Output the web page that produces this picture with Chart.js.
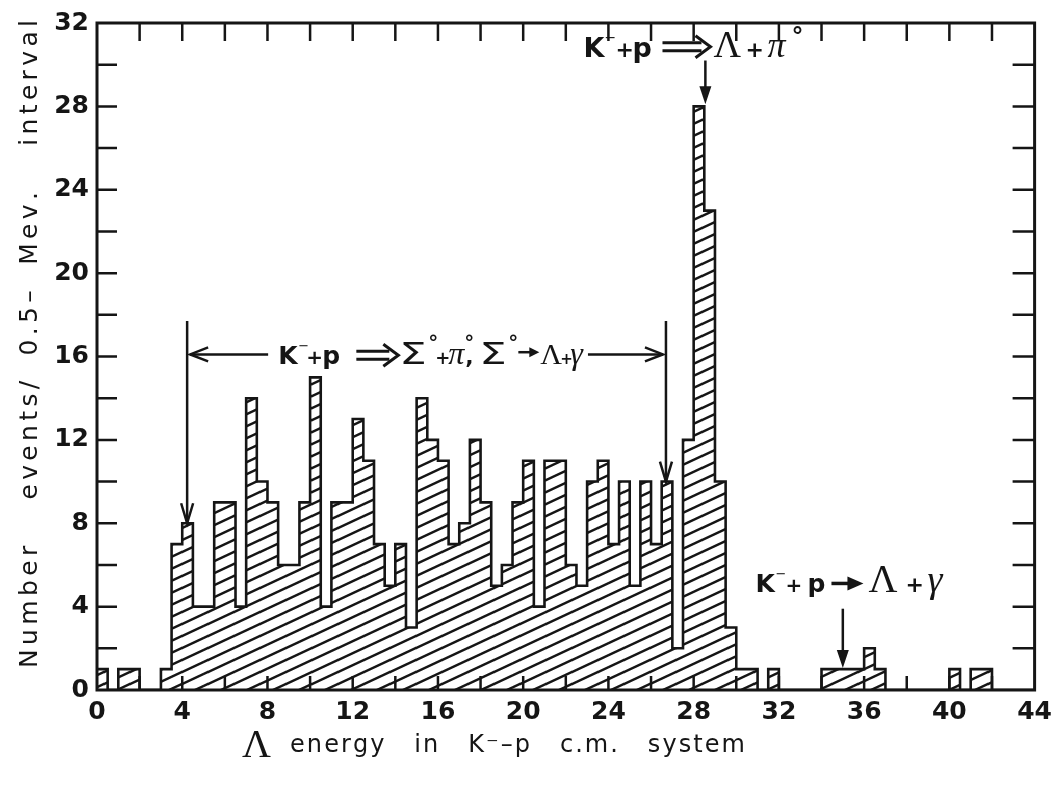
<!DOCTYPE html>
<html>
<head>
<meta charset="utf-8">
<script src="https://cdn.jsdelivr.net/npm/chart.js@4.4.1/dist/chart.umd.min.js"></script>
<style>
  html, body { margin: 0; padding: 0; background: #fff; }
</style>
</head>
<body>
<canvas id="chart" width="1059" height="785"></canvas>
<script>
// Lambda energy histogram, 0.5-MeV bins starting at 0, 0.5, 1.0 ... 43.5
const binWidth = 0.5;
const counts = [
  1, 0, 1, 1, 0, 0, 1, 7, 8, 4,       // 0.0 - 4.5
  4, 9, 9, 4, 14, 10, 9, 6, 6, 9,     // 5.0 - 9.5
  15, 4, 9, 9, 13, 11, 7, 5, 7, 3,    // 10.0 - 14.5
  14, 12, 11, 7, 8, 12, 9, 5, 6, 9,   // 15.0 - 19.5
  11, 4, 11, 11, 6, 5, 10, 11, 7, 10, // 20.0 - 24.5
  5, 10, 7, 10, 2, 12, 28, 23, 10, 3, // 25.0 - 29.5
  1, 1, 0, 1, 0, 0, 0, 0, 1, 1,       // 30.0 - 34.5
  1, 1, 2, 1, 0, 0, 0, 0, 0, 0,       // 35.0 - 39.5
  1, 0, 1, 1, 0, 0, 0, 0              // 40.0 - 43.5
];

// axes
const xMax = 44, yMax = 32;
const labelStep = 4, minorStep = 2;

const yTitle = "Number  events/ 0.5\u2013 Mev.  interval";
const xTitle = "energy  in  K\u207B\u2013p  c.m.  system";

// where the arrows point (energy, events)
const lambdaPiArrow = { x: 28.55, from: 30.2, to: 28.1 };
const sigmaSpan = { left: 4.23, right: 26.7, top: 17.7, line: 16.1, leftTip: 8, rightTip: 10 };
const lambdaGammaArrow = { x: 35.0, from: 3.9, to: 1.05 };

const ink = "#151515";

const binCenters = counts.map((c, i) => i * binWidth + binWidth / 2);
const barData = counts.map((c, i) => ({ x: binCenters[i], y: c }));
const outline = counts.map((c, i) => ({ x: i * binWidth, y: c }));
outline.push({ x: counts.length * binWidth, y: 0 });

function hatch() {
  const w = 26, h = 12;
  const c = document.createElement("canvas");
  c.width = w; c.height = h;
  const g = c.getContext("2d");
  g.fillStyle = "#fff";
  g.fillRect(0, 0, w, h);
  g.strokeStyle = ink;
  g.lineWidth = 2.4;
  for (const dy of [-h, 0, h]) {
    g.beginPath();
    g.moveTo(-4, h + dy + 2);
    g.lineTo(w + 4, dy - 2);
    g.stroke();
  }
  return g.createPattern(c, "repeat");
}

const sans = s => `bold ${s}px "DejaVu Sans"`;
const plain = s => `${s}px "DejaVu Sans"`;
const serif = s => `${s}px "Liberation Serif"`;
const ital = s => `italic ${s}px "Liberation Serif"`;

// each piece: [dx, text, font, dy, horizontal stretch]
function pieces(ctx, ax, ay, list) {
  for (const [dx, t, f, dy, sx] of list) {
    ctx.font = f;
    ctx.save();
    ctx.translate(ax + dx, ay + (dy || 0));
    ctx.scale(sx || 1, 1);
    ctx.fillText(t, 0, 0);
    ctx.restore();
  }
}

function spaced(ctx, text, x0, y0, len) {
  // draw text char by char along x so it spans len pixels; spaces get more room
  const chars = [...text];
  const natural = chars.reduce((s, ch) => s + ctx.measureText(ch).width, 0);
  const weight = ch => (ch === " " ? 3 : 1);
  const units = chars.slice(0, -1).reduce((s, ch) => s + weight(ch), 0);
  const extra = (len - natural) / units;
  let x = x0;
  for (const ch of chars) {
    ctx.fillText(ch, x, y0);
    x += ctx.measureText(ch).width + extra * weight(ch);
  }
}

function head(ctx, tx, ty, ang, len, half, filled) {
  const bx = tx - Math.cos(ang) * len, by = ty - Math.sin(ang) * len;
  const nx = -Math.sin(ang) * half, ny = Math.cos(ang) * half;
  ctx.beginPath();
  ctx.moveTo(bx + nx, by + ny);
  ctx.lineTo(tx, ty);
  ctx.lineTo(bx - nx, by - ny);
  if (filled) { ctx.closePath(); ctx.fill(); } else ctx.stroke();
}

function doubleArrow(ctx, x0, x1, yc) {
  ctx.beginPath();
  ctx.moveTo(x0, yc - 4); ctx.lineTo(x1 - 9, yc - 4);
  ctx.moveTo(x0, yc + 4); ctx.lineTo(x1 - 9, yc + 4);
  ctx.stroke();
  head(ctx, x1, yc, 0, 15, 11, false);
}

const decor = {
  id: "decor",
  afterDraw(chart) {
    const { ctx, chartArea: a, scales: { x, y } } = chart;
    const px = v => x.getPixelForValue(v);
    const py = v => y.getPixelForValue(v);
    ctx.save();
    ctx.strokeStyle = ink;
    ctx.fillStyle = ink;

    // inward ticks on all four sides
    ctx.lineWidth = 2.5;
    ctx.beginPath();
    for (let v = minorStep; v < yMax; v += minorStep) {
      ctx.moveTo(a.left, py(v)); ctx.lineTo(a.left + 20, py(v));
      ctx.moveTo(a.right, py(v)); ctx.lineTo(a.right - 22, py(v));
    }
    for (let v = minorStep; v < xMax; v += minorStep) {
      ctx.moveTo(px(v), a.top); ctx.lineTo(px(v), a.top + 18);
      ctx.moveTo(px(v), a.bottom); ctx.lineTo(px(v), a.bottom - 14);
    }
    ctx.stroke();
    ctx.lineWidth = 3;
    ctx.strokeRect(a.left, a.top, a.right - a.left, a.bottom - a.top);

    ctx.textBaseline = "alphabetic";
    ctx.textAlign = "left";
    ctx.lineWidth = 2.5;

    // K- + p => Lambda + pi0
    let ax = px(22.83), ay = py(30.38);
    pieces(ctx, ax, ay, [
      [0, "K", sans(27)], [21, "\u2212", plain(14), -15], [32, "+", sans(22)],
      [49, "p", sans(27)], [130, "\u039B", serif(38)], [162, "+", sans(22)],
      [184, "\u03C0", ital(36)], [208, "\u00B0", sans(24), -12]
    ]);
    ctx.lineWidth = 3;
    doubleArrow(ctx, ax + 79, ax + 127, ay - 10);
    ctx.lineWidth = 2.5;
    ctx.beginPath();
    ctx.moveTo(px(lambdaPiArrow.x), py(lambdaPiArrow.from));
    ctx.lineTo(px(lambdaPiArrow.x), py(lambdaPiArrow.to) - 8);
    ctx.stroke();
    head(ctx, px(lambdaPiArrow.x), py(lambdaPiArrow.to), Math.PI / 2, 18, 6, true);

    // Sigma0 band
    const sl = px(sigmaSpan.left), sr = px(sigmaSpan.right), sy = py(sigmaSpan.line);
    ctx.beginPath();
    ctx.moveTo(sl, py(sigmaSpan.top)); ctx.lineTo(sl, py(sigmaSpan.leftTip));
    ctx.moveTo(sr, py(sigmaSpan.top)); ctx.lineTo(sr, py(sigmaSpan.rightTip));
    ctx.moveTo(sl + 3, sy); ctx.lineTo(sl + 81, sy);
    ctx.moveTo(sr - 78, sy); ctx.lineTo(sr - 3, sy);
    ctx.stroke();
    head(ctx, sl, py(sigmaSpan.leftTip), Math.PI / 2, 20, 6, false);
    head(ctx, sr, py(sigmaSpan.rightTip), Math.PI / 2, 20, 6, false);
    head(ctx, sl + 3, sy, Math.PI, 18, 7, false);
    head(ctx, sr - 3, sy, 0, 18, 7, false);

    ax = px(8.51); ay = py(15.63);
    pieces(ctx, ax, ay, [
      [0, "K", sans(25)], [20, "\u2212", plain(13), -14], [28, "+", sans(20)],
      [44, "p", sans(25)],
      [121, "\u03A3", plain(31), 0, 1.4], [150, "\u00B0", sans(20), -15],
      [157, "+", sans(18)], [170, "\u03C0", ital(32)], [186, "\u00B0", sans(20), -15],
      [187, ",", sans(22)],
      [201, "\u03A3", plain(31), 0, 1.4], [230, "\u00B0", sans(20), -15],
      [262, "\u039B", serif(30)], [282, "+", sans(15)], [292, "\u03B3", ital(32)]
    ]);
    ctx.lineWidth = 3;
    doubleArrow(ctx, ax + 78, ax + 120, ay - 9);
    ctx.lineWidth = 2.5;
    ctx.beginPath();
    ctx.moveTo(ax + 240, ay - 12); ctx.lineTo(ax + 254, ay - 12);
    ctx.stroke();
    head(ctx, ax + 261, ay - 12, 0, 10, 5, true);

    // K- + p -> Lambda + gamma
    ax = px(30.9); ay = py(4.68);
    pieces(ctx, ax, ay, [
      [0, "K", sans(25)], [20, "\u2212", plain(13), -14], [30, "+", sans(20)],
      [52, "p", sans(25)], [113, "\u039B", serif(40)], [150, "+", sans(22)],
      [172, "\u03B3", ital(38)]
    ]);
    ctx.lineWidth = 3.5;
    ctx.beginPath();
    ctx.moveTo(ax + 76, ay - 9); ctx.lineTo(ax + 98, ay - 9);
    ctx.stroke();
    head(ctx, ax + 108, ay - 9, 0, 16, 7, true);
    ctx.lineWidth = 2.5;
    const gx = px(lambdaGammaArrow.x);
    ctx.beginPath();
    ctx.moveTo(gx, py(lambdaGammaArrow.from));
    ctx.lineTo(gx, py(lambdaGammaArrow.to) - 8);
    ctx.stroke();
    head(ctx, gx, py(lambdaGammaArrow.to), Math.PI / 2, 18, 6, true);

    // axis titles
    ctx.font = serif(40);
    ctx.fillText("\u039B", 242, 757);
    ctx.font = plain(24);
    spaced(ctx, xTitle, 290, 752, 455);

    ctx.translate(37, 668);
    ctx.rotate(-Math.PI / 2);
    ctx.font = plain(25);
    spaced(ctx, yTitle, 0, 0, 648);
    ctx.restore();
  }
};

new Chart(document.getElementById("chart"), {
  data: {
    datasets: [
      {
        type: "line",
        data: outline,
        stepped: "before",
        borderColor: ink,
        borderWidth: 2.6,
        pointRadius: 0,
        fill: false,
        order: 0
      },
      {
        type: "bar",
        data: barData,
        backgroundColor: hatch(),
        borderWidth: 0,
        barPercentage: 1,
        categoryPercentage: 1,
        order: 1
      }
    ]
  },
  options: {
    responsive: false,
    animation: false,
    layout: { padding: { top: 18, right: 24, left: 0, bottom: 0 } },
    plugins: { legend: { display: false }, tooltip: { enabled: false } },
    scales: {
      x: {
        type: "linear",
        min: 0,
        max: xMax,
        offset: false,
        grid: { display: false, drawTicks: false },
        border: { display: false },
        ticks: { stepSize: labelStep, color: ink, font: { family: "DejaVu Sans", size: 25, weight: "bold" }, padding: 7, maxRotation: 0, autoSkip: false },
        afterFit: s => { s.height = 95; }
      },
      y: {
        min: 0,
        max: yMax,
        grid: { display: false, drawTicks: false },
        border: { display: false },
        ticks: { stepSize: labelStep, color: ink, font: { family: "DejaVu Sans", size: 25, weight: "bold" }, padding: 8 },
        afterFit: s => { s.width = 97; }
      }
    }
  },
  plugins: [decor]
});
</script>
</body>
</html>
